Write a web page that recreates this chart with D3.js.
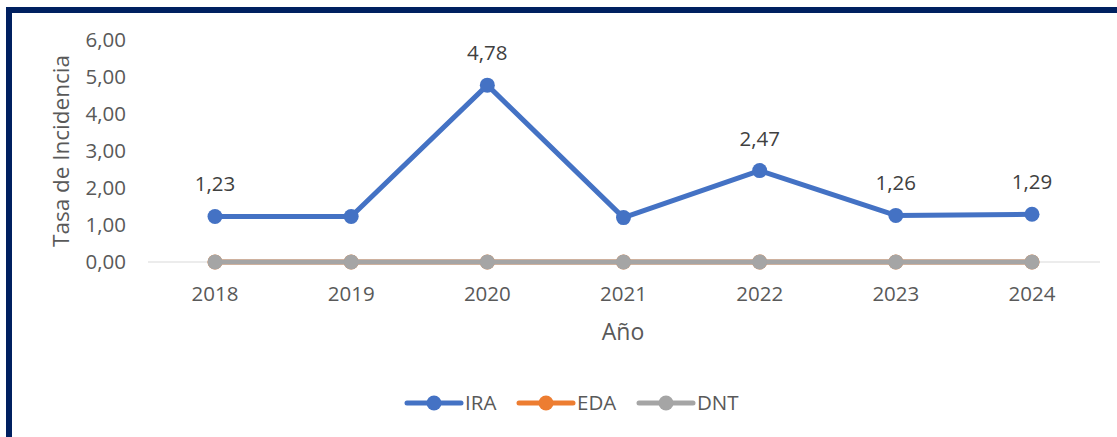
<!DOCTYPE html>
<html>
<head>
<meta charset="utf-8">
<script src="https://cdn.jsdelivr.net/npm/d3@7"></script>
<style>
  html, body { margin: 0; padding: 0; background: #fff; }
  svg { display: block; font-family: "Open Sans", "Liberation Sans", sans-serif; }
</style>
</head>
<body>
<div id="chart"></div>
<script>
/* --- data --- */
const years = ['2018', '2019', '2020', '2021', '2022', '2023', '2024'];
const ira = [1.23, 1.23, 4.78, 1.20, 2.47, 1.26, 1.29];
const eda = [0, 0, 0, 0, 0, 0, 0];
const dnt = [0, 0, 0, 0, 0, 0, 0];
const iraLabels = ['1,23', null, '4,78', null, '2,47', '1,26', '1,29'];
const yTicks = [0, 1, 2, 3, 4, 5, 6];

const seriesNames = ['IRA', 'EDA', 'DNT'];
const seriesColors = ['#4472C4', '#ED7D31', '#A5A5A5'];

const W = 1117, H = 437;
const svg = d3.select('#chart').append('svg').attr('width', W).attr('height', H);

// dark frame (only left/top visible inside the window)
svg.append('rect').attr('x', 9).attr('y', 10).attr('width', W + 20).attr('height', H + 20)
  .attr('fill', 'none').attr('stroke', '#002060').attr('stroke-width', 6);

const x = d3.scalePoint().domain(years).range([215, 1032]);
const y = d3.scaleLinear().domain([0, 6]).range([262, 40]);
const fmt = v => d3.format('.2f')(v).replace('.', ',');

/* --- y axis labels --- */
svg.append('g').selectAll('text').data(yTicks).join('text')
  .attr('x', 126).attr('y', d => y(d)).attr('dy', '0.36em')
  .attr('text-anchor', 'end').style('font-size', '20.5px').style('fill', '#595959')
  .text(fmt);

// baseline
svg.append('line').attr('x1', 148).attr('x2', 1100).attr('y1', y(0)).attr('y2', y(0))
  .attr('stroke', '#d9d9d9').attr('stroke-width', 1);

/* --- x axis labels --- */
svg.append('g').selectAll('text').data(years).join('text')
  .attr('x', d => x(d)).attr('y', 301).attr('text-anchor', 'middle')
  .style('font-size', '20.5px').style('fill', '#595959').text(d => d);

svg.append('text').attr('x', 623).attr('y', 340).attr('text-anchor', 'middle')
  .style('font-size', '23px').style('fill', '#595959').text('Año');

svg.append('text').attr('transform', `translate(69,${(y(0) + y(6)) / 2}) rotate(-90)`)
  .attr('text-anchor', 'middle').style('font-size', '22.5px').style('fill', '#595959')
  .text('Tasa de Incidencia');

/* --- series --- */
const line = d3.line().x((d, i) => x(years[i])).y(d => y(d));
const drawSeries = (vals, color) => {
  const g = svg.append('g');
  g.append('path').datum(vals).attr('d', line).attr('fill', 'none')
    .attr('stroke', color).attr('stroke-width', 5).attr('stroke-linejoin', 'round');
  g.selectAll('circle').data(vals).join('circle')
    .attr('cx', (d, i) => x(years[i])).attr('cy', d => y(d)).attr('r', 7.5)
    .attr('fill', color);
};
drawSeries(ira, seriesColors[0]);
drawSeries(eda, seriesColors[1]);
drawSeries(dnt, seriesColors[2]);

/* --- data labels --- */
svg.append('g').selectAll('text').data(ira).join('text')
  .attr('x', (d, i) => x(years[i])).attr('y', d => y(d) - 25)
  .attr('text-anchor', 'middle').style('font-size', '20.5px').style('fill', '#404040')
  .text((d, i) => iraLabels[i] || '');

/* --- legend --- */
const legX = [407, 519, 639];
const leg = svg.append('g').selectAll('g').data(seriesNames).join('g')
  .attr('transform', (d, i) => `translate(${legX[i]},403)`);
leg.append('line').attr('x1', 0).attr('x2', 54).attr('stroke', (d, i) => seriesColors[i])
  .attr('stroke-width', 5).attr('stroke-linecap', 'round');
leg.append('circle').attr('cx', 27).attr('r', 7.5).attr('fill', (d, i) => seriesColors[i]);
leg.append('text').attr('x', 58).attr('dy', '0.36em').style('font-size', '20.5px')
  .style('fill', '#595959').text(d => d);
</script>
</body>
</html>
